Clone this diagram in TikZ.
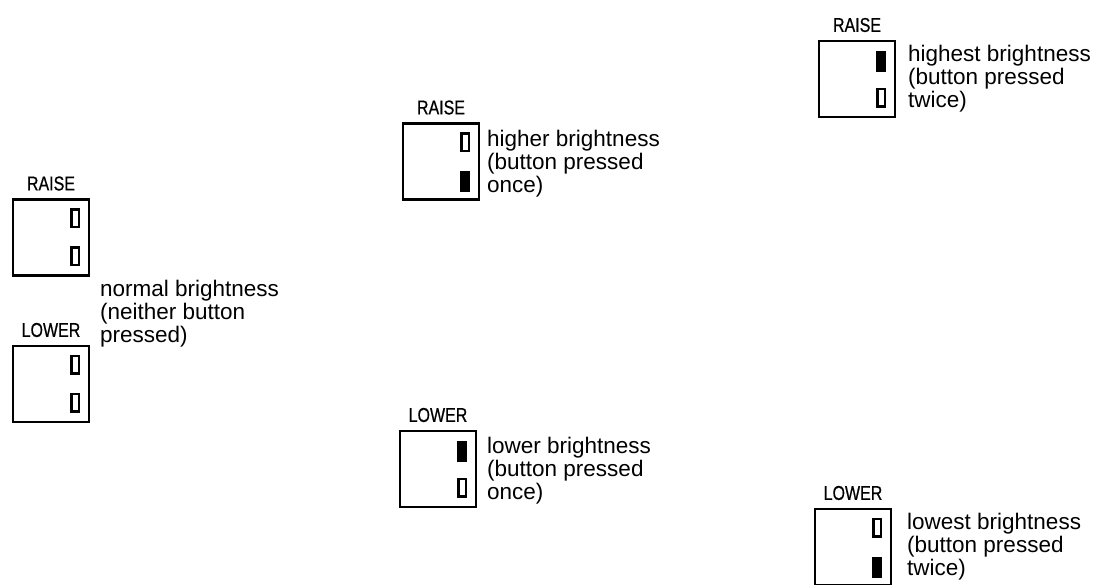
\documentclass[tikz,border=0pt]{standalone}
\usepackage{fontspec}
\setmainfont{Liberation Sans}
\newfontfamily\capsfont[FakeStretch=0.8,FakeBold=0.6]{Liberation Sans}
\begin{document}
\begin{tikzpicture}[x=1pt,y=-1pt,
  panel/.style={draw,line width=2.8pt,minimum width=76pt,minimum height=76pt,inner sep=0pt,outer sep=0pt},
  lampoff/.style={draw,line width=2.3pt,minimum width=7.5pt,minimum height=17.5pt,inner sep=0pt,outer sep=0pt,anchor=north east},
  lampon/.style={draw,fill,line width=1pt,minimum width=9pt,minimum height=20pt,inner sep=0pt,outer sep=0pt,anchor=north east},
  tag/.style={font=\capsfont\fontsize{20}{20}\selectfont,inner sep=0pt,anchor=center},
  note/.style={font=\fontsize{22.5}{23}\selectfont,align=left,anchor=north west,inner sep=0pt}]
\useasboundingbox (0,0) rectangle (1094,584);
\clip (0,0) rectangle (1094,584);

% normal brightness: both switches idle
\node[panel] (nr) at (51,237.5) {};
\node[tag] (nrt) at ([yshift=16pt]nr.north) {RAISE};
\node[lampoff] (nr1) at ([xshift=-10pt,yshift=-10pt]nr.north east) {};
\node[lampoff] (nr2) at ([xshift=-10pt,yshift=-48pt]nr.north east) {};

\node[panel] (nl) at (51,384) {};
\node[tag] (nlt) at ([yshift=16pt]nl.north) {LOWER};
\node[lampoff] (nl1) at ([xshift=-10pt,yshift=-10pt]nl.north east) {};
\node[lampoff] (nl2) at ([xshift=-10pt,yshift=-48pt]nl.north east) {};

\node[note] (nt) at (100,280) {normal brightness\\(neither button\\pressed)};

% higher brightness
\node[panel] (hr) at (441,161.5) {};
\node[tag] (hrt) at ([yshift=16pt]hr.north) {RAISE};
\node[lampoff] (hr1) at ([xshift=-10pt,yshift=-10pt]hr.north east) {};
\node[lampon] (hr2) at ([xshift=-10pt,yshift=-48pt]hr.north east) {};
\node[note] (ht) at (487,130) {higher brightness\\(button pressed\\once)};

% highest brightness
\node[panel] (xr) at (857,79) {};
\node[tag] (xrt) at ([yshift=16pt]xr.north) {RAISE};
\node[lampon] (xr1) at ([xshift=-10pt,yshift=-10pt]xr.north east) {};
\node[lampoff] (xr2) at ([xshift=-10pt,yshift=-48pt]xr.north east) {};
\node[note] (xt) at (908,45) {highest brightness\\(button pressed\\twice)};

% lower brightness
\node[panel] (lr) at (438,469) {};
\node[tag] (lrt) at ([yshift=16pt]lr.north) {LOWER};
\node[lampon] (lr1) at ([xshift=-10pt,yshift=-10pt]lr.north east) {};
\node[lampoff] (lr2) at ([xshift=-10pt,yshift=-48pt]lr.north east) {};
\node[note] (lt) at (487,437) {lower brightness\\(button pressed\\once)};

% lowest brightness
\node[panel] (wr) at (853,547) {};
\node[tag] (wrt) at ([yshift=16pt]wr.north) {LOWER};
\node[lampoff] (wr1) at ([xshift=-10pt,yshift=-10pt]wr.north east) {};
\node[lampon] (wr2) at ([xshift=-10pt,yshift=-48pt]wr.north east) {};
\node[note] (wt) at (907,513) {lowest brightness\\(button pressed\\twice)};
\end{tikzpicture}
\end{document}
